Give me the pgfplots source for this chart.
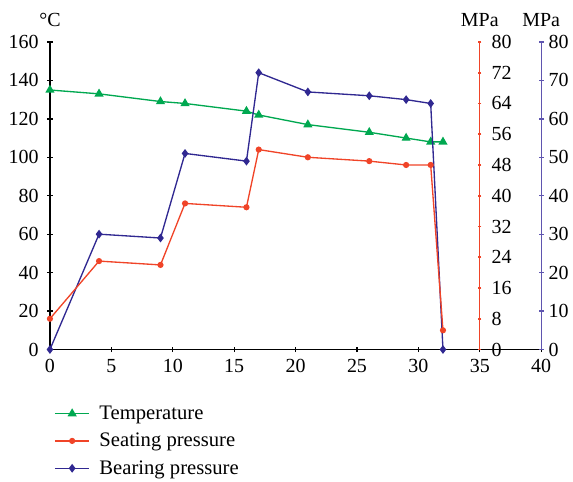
\documentclass[border=0pt]{standalone}
\usepackage{fontspec}
\setmainfont{Liberation Serif}
\usepackage{pgfplots}
\pgfplotsset{compat=1.18}

\definecolor{tgreen}{RGB}{0,168,80}
\definecolor{sred}{RGB}{240,68,40}
\definecolor{bblue}{RGB}{48,40,145}
\definecolor{baxis}{RGB}{95,85,175}

\pgfplotsset{
  base/.style={
    width=369pt, height=231pt, scale only axis,
    xmin=0, xmax=40, ymin=0, clip=false,
    font=\fontsize{15}{17}\selectfont,
    /pgf/number format/assume math mode=true,
    tick align=inside, major tick length=4pt,
  },
}

\begin{document}
\begin{tikzpicture}
% temperature, left axis
\begin{axis}[base, name=main, ymax=160,
  axis x line=bottom, axis y line=left,
  axis line style={-, black, line width=1pt},
  tick style={black, line width=1pt},
  xtick={0,5,...,40}, ytick={0,20,...,160},
  yticklabel style={xshift=-3pt},
  xticklabel style={yshift=-2pt},
  ylabel={°C},
  every axis y label/.style={at={(rel axis cs:0,1)}, anchor=south, yshift=8pt},
  legend style={at={(0,-0.165)}, anchor=north west, draw=none, fill=none,
    row sep=4.8pt, column sep=5pt, cells={anchor=west}, font=\fontsize{15.5}{17}\selectfont},
  legend image code/.code={
    \draw[mark repeat=2, mark phase=2] plot coordinates {(0pt,0pt) (13pt,0pt) (26pt,0pt)};},
]
\addplot[tgreen, line width=1pt, mark=triangle*, mark size=3pt] coordinates {
  (0,135) (4,133) (9,129) (11,128) (16,124) (17,122) (21,117) (26,113) (29,110) (31,108) (32,108)};
\addlegendentry{Temperature}
\addlegendimage{sred, line width=1pt, mark=*, mark size=1.8pt}
\addlegendentry{Seating pressure}
\addlegendimage{bblue, line width=1pt, mark=diamond*, mark size=2.5pt}
\addlegendentry{Bearing pressure}
\end{axis}

% bearing pressure, outer right axis
\begin{axis}[base, ymax=80,
  axis x line=none, axis y line=right,
  axis line style={-, baxis, line width=1pt},
  ytick style={baxis, line width=1pt},
  ytick={0,10,...,80},
  ylabel={MPa},
  every axis y label/.style={at={(rel axis cs:1,1)}, anchor=south, yshift=8pt},
]
\addplot[bblue, line width=1pt, mark=diamond*, mark size=2.5pt] coordinates {
  (0,0) (4,30) (9,29) (11,51) (16,49) (17,72) (21,67) (26,66) (29,65) (31,64) (32,0)};
\end{axis}

% seating pressure, inner right axis at x = 35
\begin{axis}[base, width=322.875pt, xmax=35, ymax=80,
  axis x line=none, axis y line=right,
  axis line style={-, sred, line width=1pt},
  ytick style={sred, line width=1.4pt}, tick align=center, major tick length=2.5pt,
  ytick={0,8,...,80},
  yticklabel style={xshift=4pt},
  ylabel={MPa},
  every axis y label/.style={at={(rel axis cs:1,1)}, anchor=south, yshift=8pt},
]
\addplot[sred, line width=1pt, mark=*, mark size=1.8pt] coordinates {
  (0,8) (4,23) (9,22) (11,38) (16,37) (17,52) (21,50) (26,49) (29,48) (31,48) (32,5)};
\end{axis}

% page margins as in the reference
\path ([xshift=-37.5pt,yshift=-97.5pt]main.south west) rectangle ([xshift=23.5pt,yshift=31.5pt]main.north east);
\end{tikzpicture}
\end{document}
